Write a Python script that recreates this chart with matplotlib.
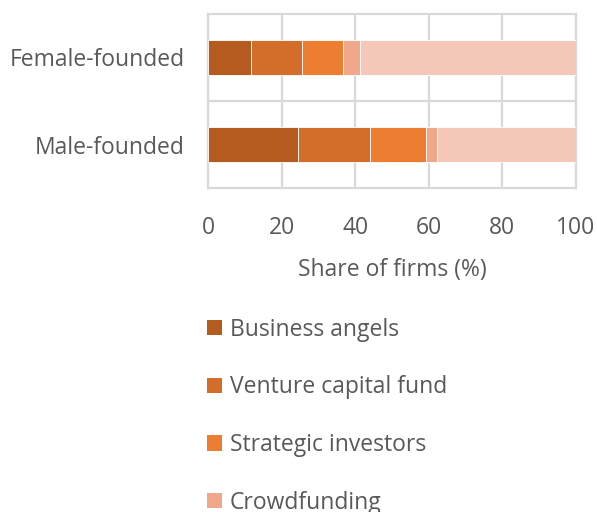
import numpy as np
import matplotlib.pyplot as plt
from matplotlib.patches import Patch

plt.rcParams['font.family'] = ['Open Sans', 'DejaVu Sans']

groups = ['Male-founded', 'Female-founded']
series = ['Business angels', 'Venture capital fund', 'Strategic investors', 'Crowdfunding', 'Other']
# share of firms (%), male first then female
business_angels = [24.5, 11.7]
venture_capital = [19.5, 13.8]
strategic = [15.2, 11.2]
crowdfunding = [3.0, 4.6]
other = [37.8, 58.7]

colors = ['#B45C20', '#D26E2A', '#ED7D31', '#F1A78A', '#F5C7B8']
txt = '#595959'
grid = '#D9D9D9'
fs = 16.5

fig = plt.figure(figsize=(5.97, 5.12), dpi=100)
ax = fig.add_axes([208/597, 1-188/512, (576-208)/597, (188-14)/512])

y = np.arange(len(groups))
left = np.zeros(len(groups))
for vals, c, name in zip([business_angels, venture_capital, strategic, crowdfunding, other], colors, series):
    ax.barh(y, vals, left=left, height=0.41, color=c, edgecolor='white', linewidth=0.6, label=name, zorder=3)
    left += np.array(vals)

ax.set_xlim(0, 100)
ax.set_ylim(-0.5, 1.5)
ax.set_xticks([0, 20, 40, 60, 80, 100])
ax.set_yticks(y)
ax.set_yticklabels(groups)
ax.grid(axis='x', color=grid, linewidth=1.6, zorder=0)
ax.axhline(0.5, color=grid, linewidth=1.6, zorder=0)
for s in ax.spines.values():
    s.set_color(grid)
    s.set_linewidth(1.6)
ax.tick_params(length=0, labelsize=fs, labelcolor=txt)
ax.tick_params(axis='y', pad=17)
ax.tick_params(axis='x', pad=20)
ax.set_xlabel('Share of firms (%)', fontsize=fs, color=txt, labelpad=13)

handles = [Patch(facecolor=c) for c in colors[:4]]
fig.legend(handles, series[:4], loc='upper left', bbox_to_anchor=(186/597, 1-297/512),
           frameon=False, fontsize=fs, labelcolor=txt, handlelength=0.65, handleheight=0.65,
           handletextpad=0.35, labelspacing=1.47)

fig.savefig('out.png', dpi=100)
